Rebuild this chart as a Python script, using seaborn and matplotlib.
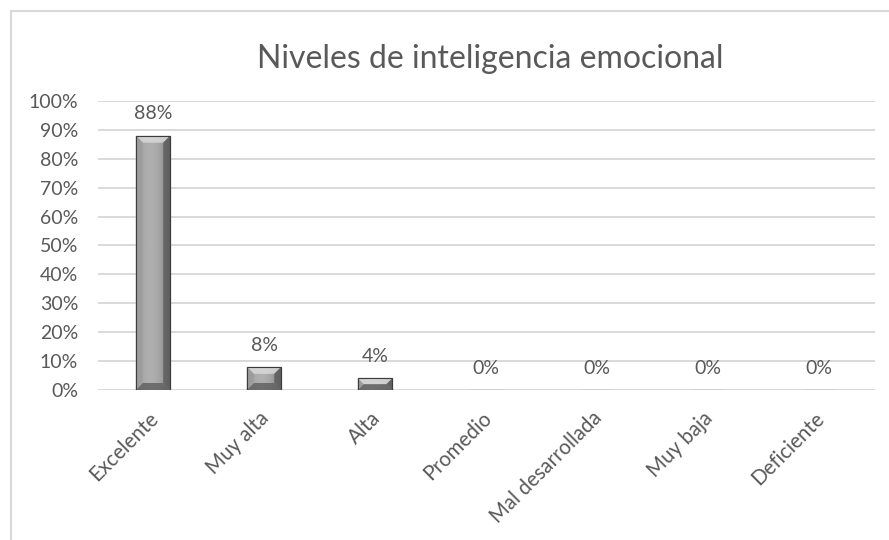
import numpy as np
import pandas as pd
import matplotlib
matplotlib.use("Agg")
import matplotlib.pyplot as plt
from matplotlib.patches import Rectangle, Polygon
from matplotlib.ticker import FuncFormatter
from matplotlib.transforms import ScaledTranslation
import seaborn as sns

# data
categories = ["Excelente", "Muy alta", "Alta", "Promedio",
              "Mal desarrollada", "Muy baja", "Deficiente"]
percentages = [88, 8, 4, 0, 0, 0, 0]
title = "Niveles de inteligencia emocional"

TEXT = "#595959"
GRID = "#d9d9d9"

sns.set_theme(style="white")
plt.rcParams["font.family"] = ["Lato", "DejaVu Sans"]

df = pd.DataFrame({"nivel": categories, "pct": percentages})

fig = plt.figure(figsize=(8.89, 5.40), dpi=100)
ax = fig.add_axes([0.1097, 0.2778, 0.874, 0.5352])

sns.barplot(data=df, x="nivel", y="pct", color="#9a9a9a", width=0.31,
            edgecolor="#3c3c3c", linewidth=0.8, ax=ax, zorder=3)

ax.set_ylim(0, 100)
ax.set_xlim(-0.5, len(categories) - 0.5)
ax.set_yticks(np.arange(0, 101, 10))
ax.yaxis.set_major_formatter(FuncFormatter(lambda v, p: f"{v:.0f}%"))
ax.grid(axis="y", color=GRID, linewidth=1.4, zorder=0)
ax.grid(axis="x", visible=False)
for s in ax.spines.values():
    s.set_visible(False)
ax.set_xlabel("")
ax.set_ylabel("")
ax.tick_params(axis="y", length=0, pad=14, labelsize=14, labelcolor=TEXT)
ax.tick_params(axis="x", length=0, pad=13, labelsize=14.8, labelcolor=TEXT)
plt.setp(ax.get_xticklabels(), rotation=45, ha="right", rotation_mode="anchor")
shift = ScaledTranslation(-0.05, 0, fig.dpi_scale_trans)
for lbl in ax.get_xticklabels():
    lbl.set_transform(lbl.get_transform() + shift)

# bevel effect on each bar, sized in pixels from the patch geometry
to_px = ax.transData
to_data = ax.transData.inverted()
for patch in ax.patches:
    x0, y0 = patch.get_x(), patch.get_y()
    w, h = patch.get_width(), patch.get_height()
    if h <= 0:
        continue
    (px0, py0), (px1, py1) = to_px.transform([(x0, y0), (x0 + w, y0 + h)])
    d = min(7.0, (py1 - py0) / 2.0, (px1 - px0) / 4.5)
    # horizontal gradient body
    grad = np.linspace(0, 1, 64)
    shade = 0.52 + 0.22 * np.sin(np.pi * (0.1 + 0.8 * grad)) - 0.12 * grad
    img = ax.imshow(shade[None, :], cmap="gray", vmin=0, vmax=1, aspect="auto",
                    extent=(x0, x0 + w, y0, y0 + h), zorder=3.5,
                    interpolation="bilinear")
    img.set_clip_path(patch)
    pts = {
        "bl": (px0, py0), "br": (px1, py0), "tl": (px0, py1), "tr": (px1, py1),
        "ibl": (px0 + d, py0 + d), "ibr": (px1 - d, py0 + d),
        "itl": (px0 + d, py1 - d), "itr": (px1 - d, py1 - d),
    }
    faces = [
        (["tl", "tr", "itr", "itl"], "#dcdcdc"),
        (["bl", "br", "ibr", "ibl"], "#5e5e5e"),
        (["tl", "itl", "ibl", "bl"], "#9c9c9c"),
        (["tr", "itr", "ibr", "br"], "#5a5a5a"),
    ]
    for keys, col in faces:
        poly = to_data.transform([pts[k] for k in keys])
        ax.add_patch(Polygon(poly, closed=True, facecolor=col, edgecolor="none",
                             alpha=0.8, zorder=3.7))
    ax.add_patch(Rectangle((x0, y0), w, h, facecolor="none",
                           edgecolor="#3c3c3c", linewidth=0.8, zorder=3.9))

ax.bar_label(ax.containers[0], labels=[f"{v}%" for v in percentages],
             padding=9.5, fontsize=14, color=TEXT)

fig.text(0.551, 0.89, title, ha="center", va="center", fontsize=23, color=TEXT)

# chart frame
fig.patches.append(Rectangle((10.5 / 889, -0.05), 1.0, 1 - 11 / 540 + 0.05,
                             transform=fig.transFigure, fill=False,
                             edgecolor="#d9d9d9", linewidth=1.5))

fig.savefig("out.png", dpi=100, facecolor="white")
